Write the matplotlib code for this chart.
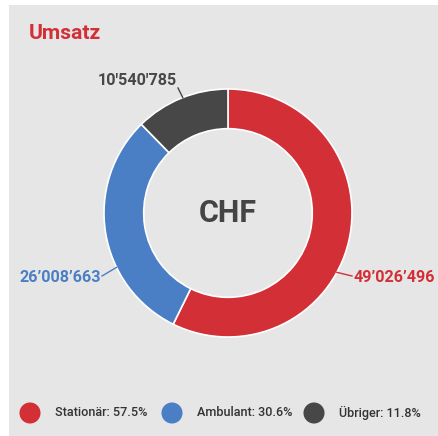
import numpy as np
import matplotlib.pyplot as plt
from matplotlib.patches import Rectangle

plt.rcParams['font.family'] = ['Roboto', 'DejaVu Sans']

categories = ['Stationär', 'Ambulant', 'Übriger']
values = [49026496, 26008663, 10540785]
shares = [57.5, 30.6, 11.8]
value_labels = ['49’026’496', '26’008’663', "10'540'785"]
colors = ['#d32f37', '#4a7fc5', '#474747']

W, H = 438, 436
fig = plt.figure(figsize=(W / 100, H / 100), dpi=100, facecolor='white')
ax = fig.add_axes([0, 0, 1, 1])
ax.set_xlim(0, W)
ax.set_ylim(0, H)
ax.set_aspect('equal')
ax.axis('off')

# grey card
ax.add_patch(Rectangle((9, 0), W - 9, H - 5, facecolor='#e6e6e6', edgecolor='none', zorder=0))

cx, cy, r = 228, 223, 124
ax.pie(values, colors=colors, startangle=90, counterclock=False,
       center=(cx, cy), radius=r, frame=True,
       wedgeprops=dict(width=r * 0.32, edgecolor='white', linewidth=1.2))
ax.set_xlim(0, W)
ax.set_ylim(0, H)
ax.axis('off')

ax.text(29, 403, 'Umsatz', color='#d32f37', fontsize=15.2, fontweight='bold',
        ha='left', va='center')
ax.text(cx, cy, 'CHF', color='#444444', fontsize=22, fontweight='bold',
        ha='center', va='center')

# value labels with leader lines
anchor_deg = [-28.6, 206, 111.4]
label_pos = [(354, 159), (101, 159), (177, 356)]
label_ha = ['left', 'right', 'right']
for lab, ang, pos, ha, col in zip(value_labels, anchor_deg, label_pos, label_ha, colors):
    a = np.deg2rad(ang)
    x0, y0 = cx + r * np.cos(a), cy + r * np.sin(a)
    if ha == 'left':
        end = (pos[0] - 2, pos[1] + 1)
    elif pos[1] > cy:
        end = (pos[0] + 1, pos[1] - 8)
    else:
        end = (pos[0] + 1, pos[1] + 1)
    ax.plot([x0, end[0]], [y0, end[1]], color=col, lw=1)
    ax.text(pos[0], pos[1], lab, color=col, fontsize=11.6, fontweight='bold',
            ha=ha, va='center')

# legend
for i, (cat, sh, col) in enumerate(zip(categories, shares, colors)):
    x = 30 + i * 142
    ax.scatter([x], [23], s=230, color=col, edgecolors='none')
    ax.text(x + 25, 23, f'{cat}: {sh:.1f}%', color='#333333', fontsize=9.1,
            fontweight='medium', ha='left', va='center')

plt.savefig('out.png', dpi=100, facecolor='white')
